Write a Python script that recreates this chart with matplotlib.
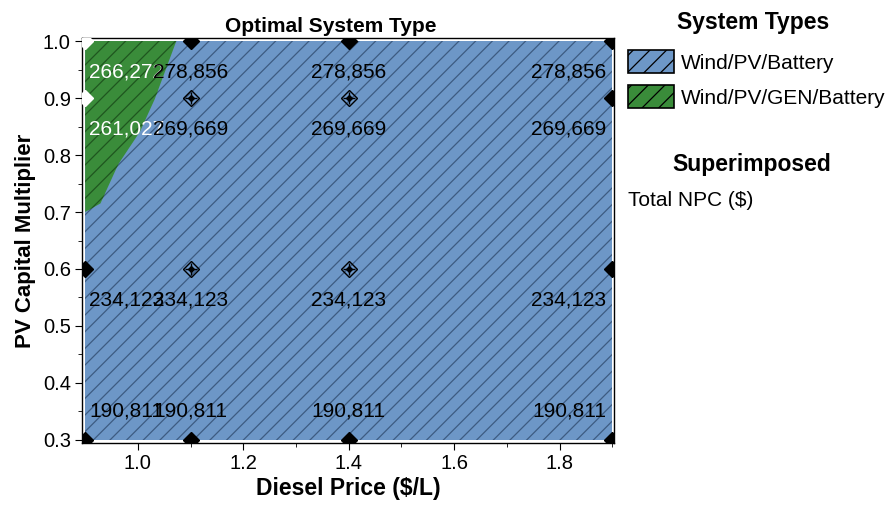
import numpy as np
import matplotlib
matplotlib.use("Agg")
import matplotlib.pyplot as plt
from matplotlib.patches import Patch

plt.rcParams['font.family'] = ['Liberation Sans', 'DejaVu Sans']
plt.rcParams['hatch.linewidth'] = 0.9

# data
diesel_price = [0.9, 1.1, 1.4, 1.9]
pv_multiplier = [1.0, 0.9, 0.6, 0.3]
total_npc = [
    [266272, 278856, 278856, 278856],
    [261027, 269669, 269669, 269669],
    [234123, 234123, 234123, 234123],
    [190811, 190811, 190811, 190811],
]
# 0 = Wind/PV/Battery, 1 = Wind/PV/GEN/Battery
system_type = [
    [1, 0, 0, 0],
    [1, 0, 0, 0],
    [0, 0, 0, 0],
    [0, 0, 0, 0],
]
type_names = ["Wind/PV/Battery", "Wind/PV/GEN/Battery"]
type_colors = ["#6d97c7", "#3a8c3a"]
hatch_colors = ["#3d5c82", "#1f561f"]
# edge of the GEN region (diesel price, pv multiplier)
gen_edge_x = [1.073, 1.032, 1.004, 0.963, 0.929, 0.9]
gen_edge_y = [1.0, 0.898, 0.841, 0.784, 0.715, 0.70]

fig = plt.figure(figsize=(8.91, 5.09), dpi=100)
ax = fig.add_axes([0.092, 0.130, 0.597, 0.795])

xmin, xmax = min(diesel_price), max(diesel_price)
ymin, ymax = min(pv_multiplier), max(pv_multiplier)

# base region
ax.fill_between([xmin, xmax], ymin, ymax, facecolor=type_colors[0],
                edgecolor=hatch_colors[0], hatch='//', linewidth=0, zorder=1)
# GEN region
poly_x = [xmin] + gen_edge_x
poly_y = [ymax] + gen_edge_y
ax.fill(poly_x, poly_y, facecolor=type_colors[1], edgecolor=hatch_colors[1],
        hatch='//', linewidth=0, zorder=2)

# markers at the data points
for i, y in enumerate(pv_multiplier):
    for j, x in enumerate(diesel_price):
        col = 'white' if system_type[i][j] == 1 else 'black'
        on_edge = x in (xmin, xmax) or y in (ymin, ymax)
        if on_edge:
            ax.plot(x, y, marker='D', ms=8.5, color=col, mec=col, zorder=5, clip_on=True)
        else:
            ax.plot(x, y, marker='D', ms=8, mfc='none', mec=col, mew=1.0, zorder=5)
            ax.plot(x, y, marker='+', ms=8, color=col, mew=1.0, zorder=5)
            ax.plot(x, y, marker='D', ms=3, color=col, zorder=5)

# value labels
for i, y in enumerate(pv_multiplier):
    for j, x in enumerate(diesel_price):
        ha = 'left' if x == xmin else ('right' if x == xmax else 'center')
        dx = 4 if x == xmin else (-6 if x == xmax else 0)
        dy = 29 if y == ymin else -31
        col = 'white' if system_type[i][j] == 1 else 'black'
        ax.annotate(f"{total_npc[i][j]:,}", (x, y), xytext=(dx, dy),
                    textcoords='offset pixels', ha=ha, va='center',
                    fontsize=15, color=col, zorder=6)

ax.set_xlim(xmin - 0.006, xmax + 0.003)
ax.set_ylim(ymin - 0.005, ymax + 0.005)
ax.set_xticks(np.arange(1.0, 1.81, 0.2))
ax.set_xticks(np.arange(1.0, 1.91, 0.1), minor=True)
ax.set_yticks(np.arange(0.3, 1.01, 0.1))
ax.set_yticks(np.arange(0.3, 1.01, 0.05), minor=True)
ax.set_xticklabels([f"{v:.1f}" for v in np.arange(1.0, 1.81, 0.2)])
ax.set_yticklabels([f"{v:.1f}" for v in np.arange(0.3, 1.01, 0.1)])
ax.tick_params(which='major', length=5, labelsize=14.5, pad=3)
ax.tick_params(which='minor', length=3)
for s in ax.spines.values():
    s.set_linewidth(1.0)

ax.text(0.468, 1.006, "Optimal System Type", transform=ax.transAxes, fontsize=15,
        fontweight='bold', ha='center', va='bottom')
ax.set_xlabel("Diesel Price ($/L)", fontsize=16.5, fontweight='bold', labelpad=3)
ax.set_ylabel("PV Capital Multiplier", fontsize=16, fontweight='bold', labelpad=5)

# legend on the right
handles = [Patch(facecolor=type_colors[k], edgecolor='black', hatch='//', linewidth=1.2)
           for k in range(len(type_names))]
fig.text(753 / 891, 1 - 22 / 509, "System Types", fontsize=16.5, fontweight='bold',
         ha='center', va='center')
leg = fig.legend(handles, type_names, loc='upper left', bbox_to_anchor=(0.696, 0.918),
                 frameon=False, fontsize=15, handlelength=2.2, handleheight=1.35,
                 handletextpad=0.3, labelspacing=0.55, borderaxespad=0)
fig.text(752 / 891, 1 - 165 / 509, "Superimposed", fontsize=16.5, fontweight='bold',
         ha='center', va='center')
fig.text(628 / 891, 1 - 200 / 509, "Total NPC ($)", fontsize=15, ha='left', va='center')

fig.savefig("out.png", dpi=100)
